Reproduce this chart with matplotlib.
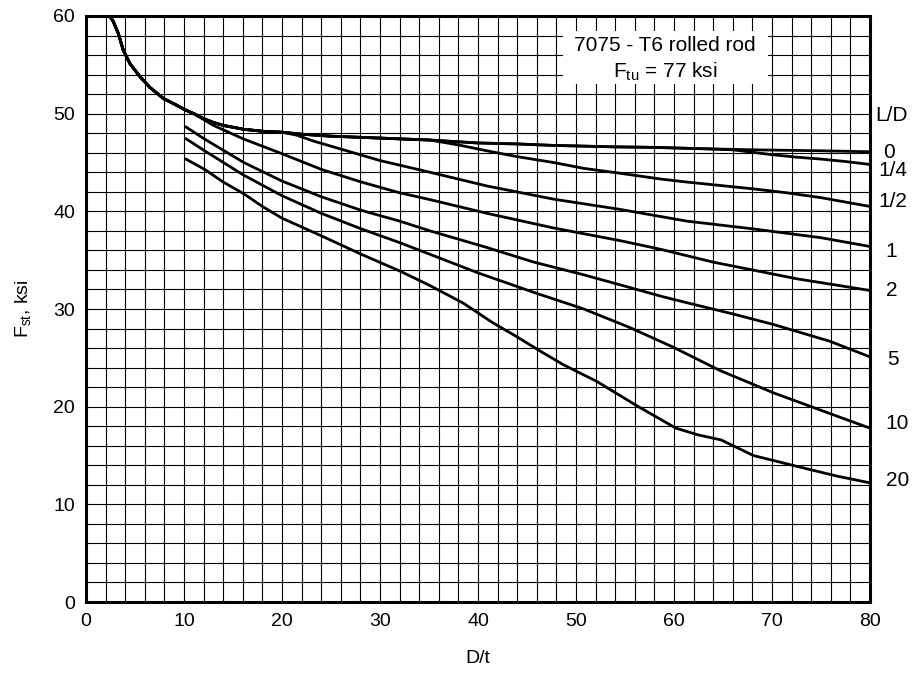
import numpy as np
import matplotlib
matplotlib.use('Agg')
import matplotlib.pyplot as plt
from matplotlib.patches import Rectangle

plt.rcParams['font.family'] = ['Liberation Sans', 'DejaVu Sans']
plt.rcParams['mathtext.fontset'] = 'custom'
plt.rcParams['mathtext.rm'] = 'Liberation Sans'

# shared upper envelope (D/t, ksi)
env_x = [2.0, 2.5, 2.8, 3.3, 3.8, 4.5, 5.5, 6.5, 7.9, 9.0, 10.1, 11.0]
env_y = [60.0, 59.9, 59.4, 58.2, 56.5, 55.1, 53.8, 52.7, 51.55, 51.0, 50.4, 50.0]

# L/D = 0
ld0_x = [12.0, 13.0, 14.0, 16.1, 18.0, 20.0, 22.0, 24.9, 30.0, 35.1, 37.5, 40.0, 44.0, 47.7, 54.0, 57.9, 63.3, 68.1, 75.0, 80.0]
ld0_y = [49.5, 49.1, 48.8, 48.4, 48.2, 48.1, 47.9, 47.7, 47.5, 47.3, 47.15, 47.0, 46.9, 46.75, 46.6, 46.55, 46.4, 46.3, 46.2, 46.1]

# L/D = 1/4 (leaves L/D = 0 near D/t = 64)
ld14_x = [66.0, 68.0, 70.0, 72.5, 75.0, 77.5, 80.0]
ld14_y = [46.3, 46.05, 45.8, 45.55, 45.35, 45.1, 44.8]

# L/D = 1/2 (leaves near D/t = 36)
ld12_x = [38.0, 40.9, 44.0, 47.7, 50.8, 54.5, 58.7, 61.3, 64.7, 68.1, 71.5, 75.0, 80.0]
ld12_y = [46.8, 46.2, 45.6, 45.0, 44.4, 43.9, 43.3, 43.0, 42.65, 42.3, 41.9, 41.4, 40.5]

# L/D = 1 (leaves near D/t = 20)
ld1_x = [21.5, 23.2, 26.6, 30.0, 35.1, 40.9, 47.7, 54.5, 61.3, 68.1, 75.0, 80.0]
ld1_y = [47.8, 47.2, 46.2, 45.2, 44.0, 42.6, 41.25, 40.2, 39.0, 38.2, 37.3, 36.4]

# L/D = 2 (leaves near D/t = 11)
ld2_x = [12.0, 13.0, 16.1, 20.0, 24.0, 28.1, 32.0, 35.1, 40.9, 47.7, 54.5, 58.7, 64.0, 72.5, 80.0]
ld2_y = [49.4, 48.8, 47.4, 45.9, 44.3, 43.0, 41.9, 41.2, 39.8, 38.3, 37.0, 36.1, 34.8, 33.1, 31.9]

# L/D = 5, 10, 20 start at D/t = 10
ld5_x = [10.1, 12.1, 16.1, 20.0, 24.0, 28.1, 32.0, 35.1, 40.9, 45.7, 50.8, 55.5, 58.7, 62.3, 66.0, 70.2, 75.9, 80.0]
ld5_y = [48.7, 47.4, 45.0, 43.1, 41.5, 40.1, 39.0, 38.0, 36.3, 34.8, 33.5, 32.2, 31.3, 30.4, 29.5, 28.4, 26.7, 25.1]

ld10_x = [10.1, 12.1, 16.1, 20.0, 24.0, 28.1, 32.0, 35.1, 40.0, 45.7, 50.8, 55.5, 59.9, 64.7, 70.2, 75.9, 80.0]
ld10_y = [47.5, 46.2, 43.7, 41.6, 39.8, 38.2, 36.8, 35.6, 33.7, 31.7, 30.0, 28.1, 26.1, 23.7, 21.4, 19.3, 17.8]

ld20_x = [10.1, 12.1, 14.0, 16.1, 18.0, 20.0, 24.0, 28.1, 32.0, 35.1, 38.5, 41.5, 43.9, 46.5, 48.7, 52.1, 56.2, 60.2, 62.5, 64.8, 68.1, 72.5, 76.6, 80.0]
ld20_y = [45.4, 44.3, 43.0, 41.8, 40.5, 39.3, 37.5, 35.6, 33.9, 32.4, 30.6, 28.6, 27.2, 25.6, 24.3, 22.6, 20.1, 17.8, 17.1, 16.6, 15.0, 13.9, 12.9, 12.2]

ld_labels = ['L/D', '0', '1/4', '1/2', '1', '2', '5', '10', '20']
label_x = [82.2, 81.9, 82.3, 82.3, 82.2, 82.2, 82.3, 82.8, 82.8]
label_y = [49.85, 46.0, 44.2, 41.0, 35.85, 31.9, 24.8, 18.3, 12.4]

fig = plt.figure(figsize=(9.13, 6.75), dpi=100)
ax = fig.add_axes([0.0942, 0.1081, 0.8587, 0.8682])

ax.set_xlim(0, 80)
ax.set_ylim(0, 60)
ax.set_xticks(np.arange(0, 81, 10))
ax.set_yticks(np.arange(0, 61, 10))
ax.set_xticks(np.arange(0, 81, 2), minor=True)
ax.set_yticks(np.arange(0, 61, 2), minor=True)
ax.grid(which='both', color='black', linewidth=0.8)
ax.set_axisbelow(True)
ax.tick_params(which='both', length=0, labelsize=14, pad=8)
for s in ax.spines.values():
    s.set_linewidth(2.2)

def upto(xs, ys, xmax):
    # part of a parent curve before a branch leaves it
    keep = [i for i, v in enumerate(xs) if v <= xmax]
    return [xs[i] for i in keep], [ys[i] for i in keep]

c0x, c0y = env_x + ld0_x, env_y + ld0_y
px, py = upto(c0x, c0y, 64.0)
c14x, c14y = px + ld14_x, py + ld14_y
px, py = upto(c0x, c0y, 36.0)
c12x, c12y = px + ld12_x, py + ld12_y
px, py = upto(c0x, c0y, 20.0)
c1x, c1y = px + ld1_x, py + ld1_y
c2x, c2y = env_x + ld2_x, env_y + ld2_y

for xs, ys in [(c0x, c0y), (c14x, c14y), (c12x, c12y), (c1x, c1y), (c2x, c2y),
               (ld5_x, ld5_y), (ld10_x, ld10_y), (ld20_x, ld20_y)]:
    ax.plot(xs, ys, color='black', linewidth=2.0, solid_joinstyle='round',
            solid_capstyle='butt', zorder=3)

# material note box
ax.add_patch(Rectangle((48.7, 53.0), 20.9, 5.5, facecolor='white', edgecolor='none', zorder=2))
ax.text(59.1, 57.0, '7075 - T6 rolled rod', ha='center', va='center', fontsize=15, zorder=4)
ax.text(59.1, 54.3, r'$\mathregular{F_{tu}}$ = 77 ksi', ha='center', va='center', fontsize=15, zorder=4)

for lab, lx, ly in zip(ld_labels, label_x, label_y):
    ax.text(lx, ly, lab, ha='center', va='center', fontsize=15, clip_on=False)

ax.set_xlabel('D/t', fontsize=14, labelpad=14)
ax.set_ylabel(r'F$_{\mathregular{st}}$, ksi', fontsize=14, labelpad=14)

fig.savefig('out.png', dpi=100)
